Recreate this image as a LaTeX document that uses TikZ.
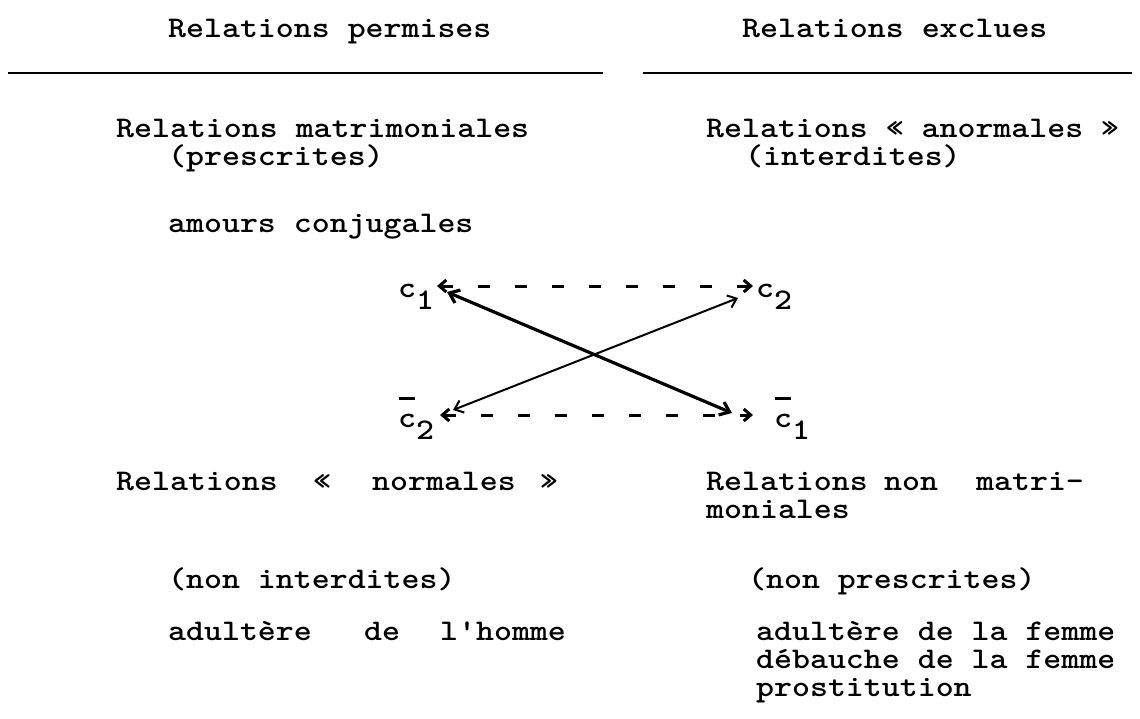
\documentclass[tikz,border=0pt]{standalone}
\usepackage{graphicx}
\usetikzlibrary{arrows.meta}
\newcommand\bt[1]{\scalebox{1.14}[1]{\fontsize{30}{27}\selectfont\ttfamily\bfseries #1}}
\newcommand\hdt[1]{\scalebox{1.14}[1]{\fontsize{30}{27}\selectfont\ttfamily\bfseries #1}}
\newcommand\csub[2]{\bt{c}\raisebox{-12pt}{\bt{#2}}}
\newcommand\cbar[2]{\makebox[0pt][l]{\kern1pt\rule[27pt]{16pt}{2.6pt}}\bt{c}\raisebox{-12pt}{\bt{#2}}}
\begin{document}
\begin{tikzpicture}[x=1pt,y=-1pt,
  txt/.style={anchor=base west, inner sep=0pt},
  rule/.style={line width=2.2pt},
  dsh/.style={line width=3pt, dash pattern=on 12pt off 25pt, {Straight Barb[length=7pt,width=12pt]}-{Straight Barb[length=7pt,width=12pt]}},
  thk/.style={line width=3.2pt, {Straight Barb[length=9pt,width=14pt]}-{Straight Barb[length=9pt,width=14pt]}},
  thn/.style={line width=2pt, {Straight Barb[length=8pt,width=13pt]}-{Straight Barb[length=8pt,width=13pt]}}]
\useasboundingbox (0,0) rectangle (1140,718);
% headers
\node[txt] (hl) at (168,37) {\hdt{Relations permises}};
\node[txt] (hr) at (742,37) {\hdt{Relations exclues}};
\coordinate (l1a) at (8,73); \coordinate (l1b) at (603,73);
\coordinate (l2a) at (643,73); \coordinate (l2b) at (1132,73);
\draw[rule] (l1a) -- (l1b);
\draw[rule] (l2a) -- (l2b);
% top texts
\node[txt] (t1) at (116,137) {\bt{Relations matrimoniales}};
\node[txt] (t2) at (168,165) {\bt{(prescrites)}};
\node[txt] (t3) at (706,137) {\bt{Relations « anormales »}};
\node[txt] (t4) at (745,165) {\bt{(interdites)}};
\node[txt] (t5) at (168,232) {\bt{amours conjugales}};
% c labels
\node[txt] (c1) at (398,297) {\csub{c}{1}};
\node[txt] (c2) at (756,297) {\csub{c}{2}};
\node[txt] (cb2) at (398,427) {\cbar{c}{2}};
\node[txt] (cb1) at (774,427) {\cbar{c}{1}};
% arrows
\coordinate (d1a) at (437,286); \coordinate (d1b) at (753,286);
\coordinate (d2a) at (440,415); \coordinate (d2b) at (753,415);
\coordinate (s1a) at (447,292); \coordinate (s1b) at (732,413);
\coordinate (s2a) at (453,410); \coordinate (s2b) at (738,298);
\draw[dsh] (d1a) -- (d1b);
\draw[dsh] (d2a) -- (d2b);
\draw[thk] (s1a) -- (s1b);
\draw[thn] (s2a) -- (s2b);
% bottom texts
\node[txt] (b1a) at (116,490) {\bt{Relations}};
\node[txt] (b1b) at (313,490) {\bt{«}};
\node[txt] (b1c) at (372,490) {\bt{normales}};
\node[txt] (b1d) at (540,490) {\bt{»}};
\node[txt] (b2a) at (706,490) {\bt{Relations}};
\node[txt] (b2b) at (884,490) {\bt{non}};
\node[txt] (b2c) at (976,490) {\bt{matri-}};
\node[txt] (b3) at (706,518) {\bt{moniales}};
\node[txt] (b4) at (168,588) {\bt{(non interdites)}};
\node[txt] (b5) at (748,588) {\bt{(non prescrites)}};
\node[txt] (b6a) at (168,640) {\bt{adultère}};
\node[txt] (b6b) at (364,640) {\bt{de}};
\node[txt] (b6c) at (440,640) {\bt{l'homme}};
\node[txt] (b7) at (756,640) {\bt{adultère de la femme}};
\node[txt] (b8) at (756,668) {\bt{débauche de la femme}};
\node[txt] (b9) at (756,696) {\bt{prostitution}};
\end{tikzpicture}
\end{document}
